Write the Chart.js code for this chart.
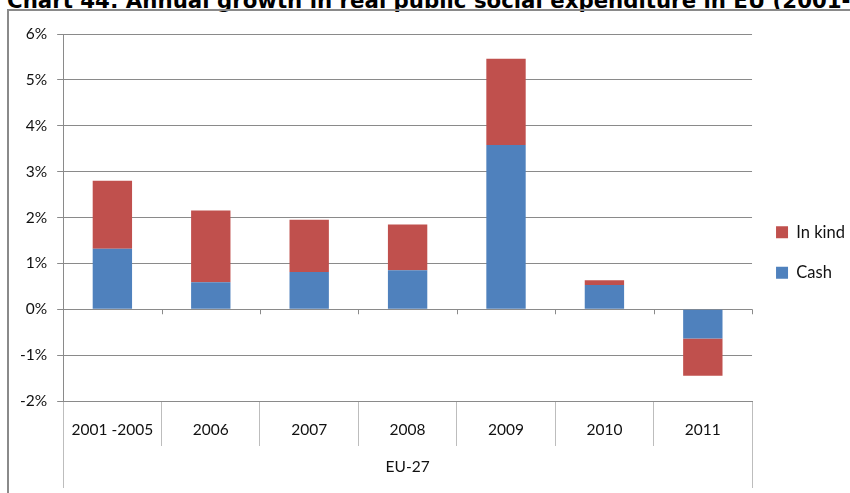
<!DOCTYPE html>
<html lang="en">
<head>
  <meta charset="UTF-8">
  <title>Chart 44</title>
  <script src="https://cdn.jsdelivr.net/npm/chart.js"></script>
  <style>
    html, body { margin: 0; padding: 0; background: #fff; overflow: hidden; }
    body { width: 850px; height: 493px; position: relative; }
    .title { position: absolute; left: 7px; top: -9px; font: bold 21.3px "DejaVu Sans", Verdana, sans-serif; line-height: 20px; white-space: nowrap; color: #000; }
    .frame { position: absolute; left: 7px; top: 9px; width: 850px; height: 484px; border-left: 2px solid #8a8a8a; border-top: 2px solid #8a8a8a; box-sizing: border-box; }
    .frame canvas { display: block; }
  </style>
</head>
<body>
  <div class="title">Chart 44: Annual growth in real public social expenditure in EU (2001-2011)</div>
  <div class="frame"><canvas id="chart" width="848" height="482"></canvas></div>

<script>
  // data (percent)
  const years   = ['2001 -2005','2006','2007','2008','2009','2010','2011'];
  const groups  = ['EU-27'];
  const cash    = [1.32, 0.59, 0.81, 0.85, 3.58, 0.53, -0.64];
  const inKind  = [1.48, 1.56, 1.14, 1.00, 1.88, 0.10, -0.81];

  const axisFont = { family: "Lato, 'DejaVu Sans', sans-serif", size: 15.5 };

  // small ticks on the 0% line between categories
  const zeroTicks = {
    id: 'zeroTicks',
    afterDatasetsDraw(chart) {
      const x = chart.scales.x, y = chart.scales.y, ctx = chart.ctx;
      const y0 = y.getPixelForValue(0);
      const w = (x.right - x.left) / years.length;
      ctx.save();
      ctx.strokeStyle = '#8a8a8a';
      ctx.lineWidth = 1;
      for (let i = 0; i <= years.length; i++) {
        const px = Math.round(x.left + i * w) + 0.5;
        ctx.beginPath(); ctx.moveTo(px, y0); ctx.lineTo(px, y0 + 5); ctx.stroke();
      }
      ctx.restore();
    }
  };

  new Chart(document.getElementById('chart'), {
    type: 'bar',
    data: {
      labels: years,
      datasets: [
        { label: 'Cash',    data: cash,   backgroundColor: '#4F81BD' },
        { label: 'In kind', data: inKind, backgroundColor: '#C0504D' }
      ]
    },
    options: {
      responsive: false,
      animation: false,
      layout: { padding: { left: 1, top: 6, right: 2, bottom: 5 } },
      datasets: { bar: { categoryPercentage: 1, barPercentage: 0.4 } },
      plugins: {
        legend: {
          position: 'right',
          reverse: true,
          labels: { font: { family: axisFont.family, size: 16.5 }, color: '#111', boxWidth: 12, boxHeight: 12, padding: 24 }
        },
        tooltip: { enabled: false }
      },
      scales: {
        y: {
          stacked: true,
          min: -2, max: 6,
          ticks: { stepSize: 1, font: axisFont, color: '#111', padding: 10, callback: v => v + '%' },
          grid: { color: '#8a8a8a', tickLength: 6 },
          border: { color: '#8a8a8a' }
        },
        x: {
          stacked: true,
          ticks: { font: axisFont, color: '#111', padding: -25, maxRotation: 0 },
          grid: { offset: true, drawOnChartArea: false, tickLength: 45, color: '#bdbdbd' },
          border: { color: '#8a8a8a' },
          afterFit: s => { s.height = 45; }
        },
        x2: {
          type: 'category',
          labels: groups,
          position: 'bottom',
          ticks: { font: axisFont, color: '#111', padding: -30 },
          grid: { offset: true, drawOnChartArea: false, tickLength: 42, color: '#bdbdbd' },
          border: { display: false },
          afterFit: s => { s.height = 42; }
        },
        // empty spacer above the plot so the legend sits where it does in the original
        x3: {
          type: 'category',
          labels: [''],
          position: 'top',
          ticks: { display: false },
          grid: { display: false },
          border: { display: false },
          afterFit: s => { s.height = 17; }
        }
      }
    },
    plugins: [zeroTicks]
  });
</script>
</body>
</html>
